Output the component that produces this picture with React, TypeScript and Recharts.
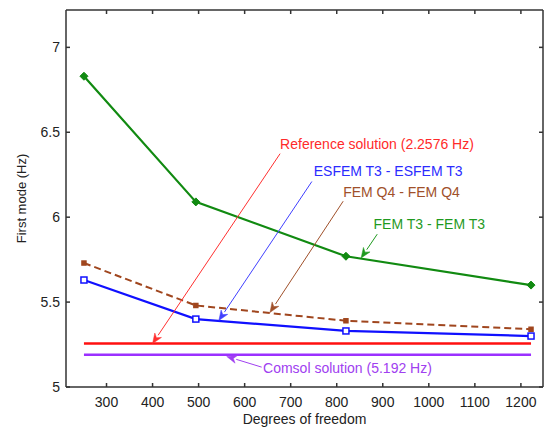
import React from 'react';
import { LineChart, Line, XAxis, YAxis, ReferenceLine, ReferenceDot } from 'recharts';

const dof = [251, 494, 820, 1222];
const esfemT3 = [5.63, 5.4, 5.33, 5.3];
const femQ4 = [5.73, 5.48, 5.39, 5.34];
const femT3 = [6.83, 6.09, 5.77, 5.6];
const referenceHz = [5.256, 5.256, 5.256, 5.256];
const comsolHz = [5.19, 5.19, 5.19, 5.19];
const xTicks = [300, 400, 500, 600, 700, 800, 900, 1000, 1100, 1200];
const yTicks = [5, 5.5, 6, 6.5, 7];

const annotations = [
  { text: 'Reference solution (2.2576 Hz)', color: '#ff2a2a', line: '#ff3030', tx: 677, ty: 6.43, x1: 677, y1: 6.374, x2: 400, y2: 5.256 },
  { text: 'ESFEM T3 - ESFEM T3', color: '#2b2bff', line: '#4040ff', tx: 750, ty: 6.27, x1: 746, y1: 6.21, x2: 544, y2: 5.392 },
  { text: 'FEM Q4 - FEM Q4', color: '#a0502a', line: '#a0502a', tx: 814, ty: 6.146, x1: 814, y1: 6.094, x2: 655, y2: 5.439 },
  { text: 'FEM T3 - FEM T3', color: '#1f9a1f', line: '#1f9a1f', tx: 880, ty: 5.96, x1: 888, y1: 5.9, x2: 853, y2: 5.76 },
  { text: 'Comsol solution (5.192 Hz)', color: '#a040f0', line: '#a040f0', tx: 640, ty: 5.11, x1: 637, y1: 5.117, x2: 561, y2: 5.18 },
];

const data = dof.map((d, i) => ({
  dof: d,
  esfem: esfemT3[i],
  q4: femQ4[i],
  t3: femT3[i],
  ref: referenceHz[i],
  comsol: comsolHz[i],
}));

const FONT = '"Liberation Sans", Arial, sans-serif';
const AXIS = '#333333';

const makeArrow = (color: string) => (p: any) => {
  const { x1, y1, x2, y2 } = p;
  const ang = Math.atan2(y2 - y1, x2 - x1);
  const L = 10;
  const W = 4;
  const c = Math.cos(ang);
  const s = Math.sin(ang);
  const bx = x2 - L * c;
  const by = y2 - L * s;
  const pts = `${x2},${y2} ${bx + W * s},${by - W * c} ${x2 - 0.7 * L * c},${y2 - 0.7 * L * s} ${bx - W * s},${by + W * c}`;
  return (
    <g>
      <line x1={x1} y1={y1} x2={bx} y2={by} stroke={color} strokeWidth={1} />
      <polygon points={pts} fill={color} stroke={color} strokeWidth={0.5} />
    </g>
  );
};

const makeText = (text: string, color: string) => (p: any) => (
  <text x={p.cx} y={p.cy} fill={color} fontSize={14} fontFamily={FONT} dominantBaseline="central" textAnchor="start">
    {text}
  </text>
);

const diamond = (color: string) => (p: any) => {
  const { cx, cy, index } = p;
  const r = 4;
  return <polygon key={`d${index}`} points={`${cx},${cy - r} ${cx + r},${cy} ${cx},${cy + r} ${cx - r},${cy}`} fill={color} stroke={color} />;
};

const square = (color: string, fill: string, size: number) => (p: any) => {
  const { cx, cy, index } = p;
  return <rect key={`s${index}`} x={cx - size / 2} y={cy - size / 2} width={size} height={size} fill={fill} stroke={color} strokeWidth={1.5} />;
};

export default function App() {
  return (
    <div style={{ position: 'absolute', left: 0, top: 0, background: '#fff' }}>
      <LineChart width={547} height={431} data={data} margin={{ top: 9, right: 3, bottom: 0, left: 0 }}>
        <XAxis
          dataKey="dof"
          type="number"
          domain={[212, 1248]}
          ticks={xTicks}
          allowDataOverflow
          height={44}
          tickSize={-4}
          tickMargin={14}
          stroke={AXIS}
          strokeWidth={1.5}
          tick={{ fill: '#222', fontSize: 14, fontFamily: FONT }}
          label={{
            content: (p: any) => {
              const vb = p.viewBox;
              return (
                <text x={vb.x + vb.width / 2} y={vb.y + 37} textAnchor="middle" fill="#222" fontSize={14} fontFamily={FONT}>
                  Degrees of freedom
                </text>
              );
            },
          }}
        />
        <XAxis
          xAxisId="top"
          dataKey="dof"
          type="number"
          orientation="top"
          domain={[212, 1248]}
          ticks={xTicks}
          allowDataOverflow
          height={1}
          tickSize={-4}
          tickFormatter={() => ''}
          stroke={AXIS}
          strokeWidth={1.5}
        />
        <YAxis
          type="number"
          domain={[5, 7.22]}
          ticks={yTicks}
          allowDataOverflow
          width={66}
          tickSize={-4}
          tickMargin={10}
          stroke={AXIS}
          strokeWidth={1.5}
          tick={{ fill: '#222', fontSize: 14, fontFamily: FONT }}
          label={{
            content: (p: any) => {
              const vb = p.viewBox;
              const cx = 21;
              const cy = vb.y + vb.height / 2;
              return (
                <text x={cx} y={cy} transform={`rotate(-90 ${cx} ${cy})`} textAnchor="middle" dominantBaseline="central" fill="#222" fontSize={13} fontFamily={FONT}>
                  First mode (Hz)
                </text>
              );
            },
          }}
        />
        <YAxis
          yAxisId="right"
          orientation="right"
          type="number"
          domain={[5, 7.22]}
          ticks={yTicks}
          allowDataOverflow
          width={1}
          tickSize={-4}
          tickFormatter={() => ''}
          stroke={AXIS}
          strokeWidth={1.5}
        />
        <Line dataKey="ref" stroke="#ff1010" strokeWidth={2.5} dot={false} isAnimationActive={false} />
        <Line dataKey="comsol" stroke="#9b30ff" strokeWidth={2.5} dot={false} isAnimationActive={false} />
        <Line dataKey="q4" stroke="#a0461e" strokeWidth={2} strokeDasharray="7 4" dot={square('#a0461e', '#a0461e', 4)} isAnimationActive={false} />
        <Line dataKey="esfem" stroke="#1010ff" strokeWidth={2.2} dot={square('#1010ff', '#ffffff', 6)} isAnimationActive={false} />
        <Line dataKey="t3" stroke="#118a11" strokeWidth={2.2} dot={diamond('#118a11')} isAnimationActive={false} />
        {annotations.map((a, i) => (
          <ReferenceLine
            key={`al${i}`}
            segment={[{ x: a.x1, y: a.y1 }, { x: a.x2, y: a.y2 }]}
            shape={makeArrow(a.line)}
          />
        ))}
        {annotations.map((a, i) => (
          <ReferenceDot key={`at${i}`} x={a.tx} y={a.ty} r={0} shape={makeText(a.text, a.color)} />
        ))}
      </LineChart>
    </div>
  );
}
